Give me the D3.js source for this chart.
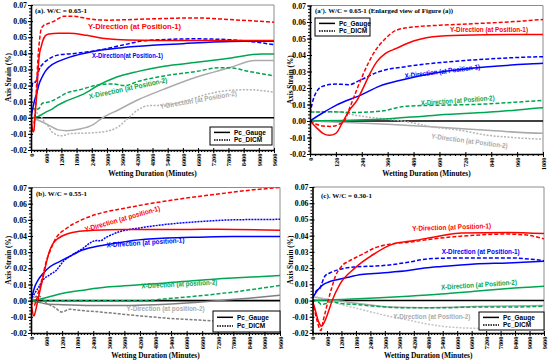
<!DOCTYPE html>
<html><head><meta charset="utf-8">
<script src="https://cdn.jsdelivr.net/npm/d3@7"></script>
<style>body{margin:0;background:#fff}svg{display:block}</style>
</head><body><svg id="c" width="550" height="364"></svg>
<script>
// ---------------- DATA ----------------
const yTickValues = [-0.02,-0.01,0,0.01,0.02,0.03,0.04,0.05,0.06,0.07];
const yTickLabels = ["-0.02","-0.01","0.00","0.01","0.02","0.03","0.04","0.05","0.06","0.07"];
const xTicksLong = [0,600,1200,1800,2400,3000,3600,4200,4800,5400,6000,6600,7200,7800,8400,9000,9600];
const xTicksShort = [0,120,240,360,480,600,720,840,960,1080];
const legendLabels = ["Pc_Gauge","Pc_DICM"];

// W/C = 0.65-1 (panels a and a')
const A_Y1_gauge = [[0,0],[30,-0.004],[60,-0.0075],[90,-0.0087],[120,-0.0075],[150,-0.001],[180,0.006],[220,0.013],[250,0.021],[275,0.028],[310,0.036],[350,0.041],[400,0.044],[450,0.047],[570,0.051],[700,0.052],[1080,0.0525],[1500,0.0525],[2200,0.0512],[3000,0.049],[3800,0.0482],[5000,0.048],[9600,0.048]];
const A_Y1_dicm = [[0,0],[30,-0.002],[60,-0.003],[100,-0.0033],[135,-0.002],[158,0],[190,0.01],[220,0.02],[252,0.03],[290,0.04],[350,0.05],[400,0.055],[480,0.057],[600,0.058],[760,0.059],[920,0.06],[1080,0.0615],[1300,0.063],[1700,0.063],[2200,0.0616],[3000,0.0606],[4000,0.061],[5200,0.0616],[6500,0.062],[7800,0.061],[9600,0.0593]];
const A_X1_gauge = [[0,0],[60,0.005],[120,0.0095],[240,0.016],[320,0.021],[430,0.025],[570,0.029],[750,0.032],[1080,0.035],[1500,0.0375],[2400,0.041],[3600,0.0435],[4800,0.045],[6000,0.046],[7200,0.047],[8400,0.0475],[9600,0.0475]];
const A_X1_dicm = [[0,0.0044],[20,0.015],[57,0.021],[120,0.0224],[180,0.022],[236,0.025],[322,0.03],[446,0.033],[570,0.035],[757,0.037],[1080,0.039],[1800,0.040],[2700,0.042],[3700,0.0454],[4600,0.048],[6500,0.049],[7800,0.0485],[8850,0.047],[9600,0.0454]];
const A_X2_gauge = [[0,0],[320,0.001],[570,0.0034],[835,0.0054],[1080,0.008],[1400,0.0105],[2050,0.0145],[2700,0.0205],[3340,0.025],[4235,0.0288],[5260,0.032],[6545,0.0344],[7830,0.037],[9100,0.0396],[9600,0.0396]];
const A_X2_dicm = [[0,0.0054],[100,0.0056],[200,0.0052],[330,0.006],[446,0.009],[570,0.0095],[757,0.01],[1080,0.0125],[1412,0.0154],[1925,0.0174],[2700,0.0205],[3200,0.021],[3700,0.020],[4235,0.0226],[5260,0.026],[6545,0.0288],[7400,0.031],[7830,0.031],[8600,0.0288],[9600,0.026]];
const A_Y2_gauge = [[0,0],[360,-0.002],[600,-0.0038],[840,-0.0058],[1080,-0.0075],[1400,-0.008],[1925,-0.007],[2440,-0.0044],[2824,0],[3465,0.005],[4235,0.0112],[5260,0.0178],[6545,0.0253],[7830,0.031],[8855,0.0355],[9600,0.0355]];
const A_Y2_dicm = [[0,0.0054],[135,0.0054],[213,0.0034],[337,0.0014],[430,0],[570,-0.0036],[695,-0.0056],[820,-0.0086],[940,-0.010],[1080,-0.011],[1200,-0.0112],[1540,-0.0098],[2180,-0.0095],[2950,-0.0085],[3465,-0.0054],[3786,-0.001],[4235,0.005],[4620,0.0075],[5260,0.0078],[6030,0.0102],[7060,0.015],[7830,0.017],[8600,0.0174],[9600,0.0158]];

// W/C = 0.55-1 (panel b)
const B_Y1_gauge = [[0,0],[40,-0.005],[110,-0.0095],[180,-0.006],[260,0],[370,0.008],[474,0.015],[600,0.024],[720,0.031],[860,0.0356],[1000,0.038],[1200,0.04],[1760,0.0427],[2400,0.0435],[3600,0.044],[6000,0.044],[7200,0.0442],[9600,0.0435]];
const B_Y1_dicm = [[0,0],[60,-0.002],[120,-0.003],[200,0],[300,0.006],[450,0.015],[600,0.025],[731,0.0305],[923,0.0376],[1372,0.0448],[1885,0.0495],[2654,0.054],[3550,0.057],[4577,0.06],[5860,0.0632],[7140,0.0658],[8420,0.0683],[9600,0.070]];
const B_X1_gauge = [[0,0],[154,0.009],[282,0.013],[474,0.017],[731,0.021],[1115,0.0243],[1372,0.0264],[2013,0.0315],[2654,0.034],[3295,0.0356],[3936,0.0372],[5218,0.0387],[6500,0.0393],[7780,0.0397],[9600,0.0397]];
const B_X1_dicm = [[0,0],[90,0.003],[282,0.008],[474,0.013],[731,0.016],[988,0.019],[1244,0.0243],[1500,0.0274],[2013,0.0325],[2270,0.0356],[2526,0.0372],[2654,0.037],[2910,0.0393],[3423,0.0427],[4192,0.045],[5218,0.0472],[6500,0.0489],[7780,0.05],[9600,0.0503]];
const B_X2_gauge = [[0,0],[603,0.002],[1372,0.005],[2013,0.0065],[2910,0.0084],[3936,0.0096],[5218,0.011],[6500,0.0127],[7780,0.014],[9600,0.0155]];
const B_X2_dicm = [[0,0],[218,-0.0008],[603,0],[2000,0],[4320,0],[5218,0.0012],[6500,0.003],[7780,0.0053],[9600,0.0094]];
const B_Y2_gauge = [[0,0],[300,-0.001],[600,-0.002],[1200,-0.0025],[2400,-0.003],[3600,-0.003],[4800,-0.0025],[6000,-0.0015],[7200,0],[8400,0.0015],[9600,0.0033]];
const B_Y2_dicm = [[0,0],[282,0.003],[603,-0.0016],[923,-0.0043],[1180,-0.007],[1500,-0.0053],[1885,-0.006],[2654,-0.007],[3936,-0.009],[5218,-0.0108],[6500,-0.012],[7012,-0.0125],[8400,-0.013],[9600,-0.013]];

// W/C = 0.30-1 (panel c)
const C_Y1_gauge = [[0,0],[100,-0.005],[250,-0.013],[373,-0.0158],[500,-0.013],[700,-0.005],[815,0],[1133,0.01],[1754,0.02],[2583,0.029],[3273,0.0345],[4240,0.037],[5345,0.040],[6173,0.0417],[8107,0.042],[9600,0.0413]];
const C_Y1_dicm = [[0,0],[100,-0.007],[200,-0.013],[345,-0.0185],[450,-0.012],[550,-0.006],[650,0],[800,0.008],[950,0.015],[1200,0.021],[1600,0.025],[2000,0.028],[2600,0.0325],[3300,0.035],[4000,0.036],[5000,0.038],[6000,0.0395],[7000,0.0405],[8000,0.041],[8800,0.0405],[9600,0.038]];
const C_X1_gauge = [[0,0.0016],[235,0.0068],[442,0.0098],[650,0.0113],[1064,0.013],[1478,0.0144],[2030,0.016],[2860,0.017],[3964,0.0185],[4654,0.020],[5345,0.021],[6726,0.0226],[8107,0.0232],[9600,0.0242]];
const C_X1_dicm = [[0,0.0016],[166,0.006],[304,0.0074],[373,0.01],[511,0.015],[718,0.017],[1064,0.019],[1754,0.0207],[2306,0.0211],[2860,0.0215],[3964,0.0236],[4792,0.0257],[6173,0.0263],[8107,0.0263],[9600,0.0246]];
const C_X2_gauge = [[0,0],[1200,0.0006],[2583,0.0016],[3964,0.0027],[5345,0.004],[6726,0.0057],[8107,0.0074],[9600,0.0088]];
const C_X2_dicm = [[0,0.0006],[235,-0.0008],[373,-0.0025],[511,-0.002],[787,-0.0008],[1200,-0.0018],[1892,-0.0025],[2583,-0.0035],[3964,-0.0045],[5345,-0.0045],[6726,-0.004],[8107,-0.004],[9600,-0.0035]];
const C_Y2_gauge = [[0,0.0023],[511,0.001],[1200,-0.0004],[1892,-0.0018],[2583,-0.003],[3273,-0.004],[4654,-0.0045],[6035,-0.004],[7416,-0.0035],[9600,-0.003]];
const C_Y2_dicm = [[0,0.0027],[511,0.001],[1200,-0.0025],[1892,-0.005],[2583,-0.0076],[3273,-0.010],[3964,-0.012],[4654,-0.0142],[5345,-0.0158],[6173,-0.0168],[7002,-0.0172],[8400,-0.0175],[9600,-0.0175]];

// ---------------- STYLE / LAYOUT ----------------
const RED="#ff0000", BLUE="#0000ff", GREEN="#00a651", GRAY="#ababab";
const SERIF="'Liberation Serif','Times New Roman',serif";
const SANS="'Liberation Sans',Arial,sans-serif";

const panelA_series = ()=>[
  {d:A_Y2_gauge,c:GRAY,dash:null},{d:A_Y2_dicm,c:"#b4b4b4",dash:"2,1.5"},
  {d:A_X2_gauge,c:GREEN,dash:null},{d:A_X2_dicm,c:GREEN,dash:"4,2"},
  {d:A_X1_gauge,c:BLUE,dash:null},{d:A_X1_dicm,c:BLUE,dash:"4,2"},
  {d:A_Y1_gauge,c:RED,dash:null},{d:A_Y1_dicm,c:RED,dash:"4,2"}];

const panels = [
 {id:"a", box:[31,274,5,150], xMax:9600, xTicks:xTicksLong, minor:5,
  title:"(a). W/C = 0.65-1", titleW:52, titlePos:[35,13], yTitleX:8, xTitleY:176,
  series:panelA_series(),
  legend:[210,127,62,18],
  ann:[
   {t:"Y-Direction (at Position-1)",x:2252,y:0.0548,a:0,c:RED,w:93},
   {t:"X-Direction(at Position-1)",x:2410,y:0.0372,a:0,c:BLUE,w:71},
   {t:"X-Direction (at Position-2)",x:2311,y:0.0117,a:-12,c:GREEN,w:80},
   {t:"Y-Direction (at Position-2)",x:5112,y:0.0054,a:-10,c:GRAY,w:78}]},
 {id:"ap", box:[310,543,5.5,154], xMax:1080, xTicks:xTicksShort, minor:5,
  title:"(a'). W/C = 0.65-1 (Enlarged view of Figure (a))", titleW:138, titlePos:[315,13], yTitleX:290, xTitleY:176,
  series:panelA_series(),
  legend:[315,18,55,18],
  ann:[
   {t:"Y-Direction  (at Position-1)",x:649,y:0.0542,a:0,c:RED,w:78},
   {t:"X-Direction (at Position-1)",x:440,y:0.0258,a:-7,c:BLUE,w:76},
   {t:"X-Direction (at Position-2)",x:514,y:0.0094,a:-4,c:GREEN,w:74},
   {t:"Y-Direction (at Position-2)",x:561,y:-0.0106,a:7.5,c:GRAY,w:77}]},
 {id:"b", box:[31,280,187.5,333], xMax:9600, xTicks:xTicksLong, minor:5,
  title:"(b). W/C = 0.55-1", titleW:51, titlePos:[36,196], yTitleX:8, xTitleY:358,
  series:[
   {d:B_Y2_gauge,c:"#7f7f7f",dash:null},{d:B_Y2_dicm,c:"#7f7f7f",dash:"3,1.5"},
   {d:B_X2_gauge,c:GREEN,dash:null},{d:B_X2_dicm,c:GREEN,dash:"4,2"},
   {d:B_X1_gauge,c:BLUE,dash:null},{d:B_X1_dicm,c:BLUE,dash:"2,1"},
   {d:B_Y1_gauge,c:RED,dash:null},{d:B_Y1_dicm,c:RED,dash:"4,2"}],
  legend:[213,311,67,21],
  ann:[
   {t:"Y-Direction (at position-1)",x:2100,y:0.0425,a:-16,c:RED,w:78},
   {t:"X-Direction (at position-1)",x:2918,y:0.0329,a:-3.7,c:BLUE,w:78},
   {t:"X-Direction (at position-2)",x:4262,y:0.0075,a:-3,c:GREEN,w:76},
   {t:"Y-Direction (at position-2)",x:3686,y:-0.0061,a:0,c:GRAY,w:78}]},
 {id:"c", box:[312.5,544,187,333], xMax:9600, xTicks:xTicksLong, minor:5,
  title:"(c). W/C = 0.30-1", titleW:51, titlePos:[321,198], yTitleX:290, xTitleY:358,
  series:[
   {d:C_Y2_gauge,c:GRAY,dash:null},{d:C_Y2_dicm,c:"#c4c4c4",dash:"2,1.5"},
   {d:C_X2_gauge,c:GREEN,dash:null},{d:C_X2_dicm,c:GREEN,dash:"4,2"},
   {d:C_X1_gauge,c:BLUE,dash:null},{d:C_X1_dicm,c:BLUE,dash:"4,2"},
   {d:C_Y1_gauge,c:RED,dash:null},{d:C_Y1_dicm,c:RED,dash:"4,2"}],
  legend:[479,312,65,18],
  ann:[
   {t:"Y-Direction  (at Position-1)",x:4139,y:0.0429,a:-2,c:RED,w:79},
   {t:"X-Direction (at Position-1)",x:5358,y:0.0287,a:0,c:BLUE,w:78},
   {t:"X-Direction (at Position-2)",x:5337,y:0.0066,a:-4,c:GREEN,w:76},
   {t:"Y-Direction (at Position-2)",x:3350,y:-0.0114,a:0,c:GRAY,w:77}]}
];

const svg = d3.select("#c");
svg.append("rect").attr("width",550).attr("height",364).attr("fill","#fff");

function drawPanel(p){
  const [x0,x1,y0,y1]=p.box;
  const x=d3.scaleLinear().domain([0,p.xMax]).range([x0,x1]);
  const y=d3.scaleLinear().domain([-0.02,0.07]).range([y1,y0]);
  const g=svg.append("g");
  const clipId="clip-"+p.id;
  svg.append("clipPath").attr("id",clipId).append("rect")
    .attr("x",x0).attr("y",y0).attr("width",x1-x0).attr("height",y1-y0);
  g.append("path").attr("d",`M${x0},${y0}H${x1}V${y1}`).attr("fill","none")
    .attr("stroke","#8c8c8c").attr("stroke-width",1);
  g.append("line").attr("x1",x0).attr("x2",x1).attr("y1",y(0)).attr("y2",y(0))
    .attr("stroke","#000").attr("stroke-width",1.6);
  const line=d3.line().x(d=>x(d[0])).y(d=>y(d[1])).curve(d3.curveMonotoneX);
  const sg=g.append("g").attr("clip-path",`url(#${clipId})`);
  p.series.forEach(s=>{
    sg.append("path").attr("d",line(s.d)).attr("fill","none").attr("stroke",s.c)
      .attr("stroke-width",1.5).attr("stroke-dasharray",s.dash);
  });
  const step=p.xTicks[1]-p.xTicks[0];
  const xMinor=d3.range(0,p.xMax+1e-9,step/p.minor);
  const yMinor=d3.range(-0.02,0.0701,0.002);
  g.append("g").attr("transform",`translate(0,${y1})`)
    .call(d3.axisBottom(x).tickValues(xMinor).tickSize(2).tickFormat(""))
    .call(a=>a.select(".domain").remove());
  g.append("g").attr("transform",`translate(${x0},0)`)
    .call(d3.axisLeft(y).tickValues(yMinor).tickSize(2).tickFormat(""))
    .call(a=>a.select(".domain").remove());
  const xa=g.append("g").attr("transform",`translate(0,${y1})`)
    .call(d3.axisBottom(x).tickValues(p.xTicks).tickSizeInner(3).tickSizeOuter(0).tickFormat(d=>String(d)));
  xa.select(".domain").attr("stroke-width",1.6);
  xa.selectAll(".tick line").attr("y1",-2);
  xa.selectAll(".tick text").attr("font-family",SERIF).attr("font-weight","bold").attr("font-size",6.4)
    .attr("fill","#000").attr("transform","rotate(-90)").attr("text-anchor","end")
    .attr("x",-3.5).attr("y",0).attr("dy","0.35em");
  const ya=g.append("g").attr("transform",`translate(${x0},0)`)
    .call(d3.axisLeft(y).tickValues(yTickValues).tickSizeInner(3).tickSizeOuter(0)
      .tickFormat((d,i)=>yTickLabels[i]));
  ya.select(".domain").attr("stroke-width",1.6);
  ya.selectAll(".tick line").attr("x1",2);
  ya.selectAll(".tick text").attr("font-family",SERIF).attr("font-weight","bold").attr("font-size",7.8).attr("fill","#000").attr("x",-4);
  g.append("text").attr("x",p.yTitleX).attr("y",(y0+y1)/2)
    .attr("transform",`rotate(-90,${p.yTitleX},${(y0+y1)/2})`).attr("text-anchor","middle")
    .attr("dy","0.35em").attr("font-family",SERIF).attr("font-weight","bold").attr("font-size",7.3).text("Axis Strain (%)");
  g.append("text").attr("x",(x0+x1)/2).attr("y",p.xTitleY).attr("text-anchor","middle")
    .attr("font-family",SERIF).attr("font-weight","bold").attr("font-size",7.4).text("Wetting Duration (Minutes)");
  g.append("text").attr("x",p.titlePos[0]).attr("y",p.titlePos[1])
    .attr("font-family",SERIF).attr("font-weight","bold").attr("font-size",7.1)
    .attr("textLength",p.titleW).attr("lengthAdjust","spacingAndGlyphs").text(p.title);
  p.ann.forEach(a=>{
    const ax=x(a.x), ay=y(a.y);
    g.append("text").attr("x",ax).attr("y",ay).attr("transform",`rotate(${a.a},${ax},${ay})`)
      .attr("font-family",SANS).attr("font-weight","bold").attr("font-size",7.2).attr("fill",a.c)
      .attr("textLength",a.w).attr("lengthAdjust","spacingAndGlyphs").text(a.t);
  });
  const [lx,ly,lw,lh]=p.legend;
  const lg=g.append("g");
  lg.append("rect").attr("x",lx).attr("y",ly).attr("width",lw).attr("height",lh)
    .attr("fill","#fff").attr("stroke","#000").attr("stroke-width",1);
  legendLabels.forEach((t,i)=>{
    const yy=ly+lh*(i===0?0.3:0.72);
    lg.append("line").attr("x1",lx+4).attr("x2",lx+20).attr("y1",yy).attr("y2",yy)
      .attr("stroke","#000").attr("stroke-width",1.5).attr("stroke-dasharray",i===0?null:"1.5,1");
    lg.append("text").attr("x",lx+24).attr("y",yy).attr("dy","0.35em")
      .attr("font-family",SANS).attr("font-weight","bold").attr("font-size",6.5).text(t);
  });
}
panels.forEach(drawPanel);
</script></body></html>
